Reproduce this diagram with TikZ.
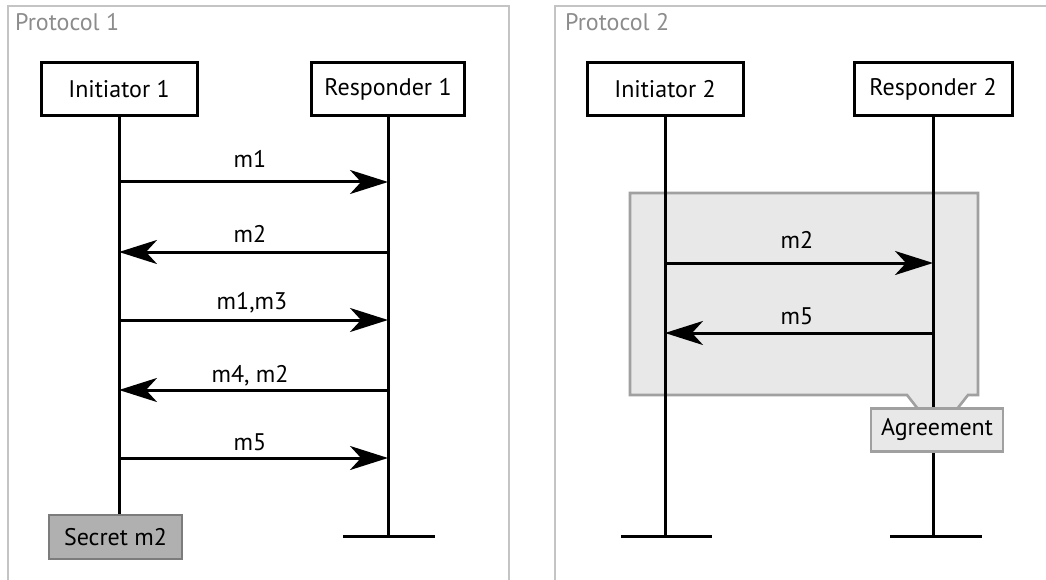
\documentclass[tikz,border=0pt]{standalone}
\usepackage{fontspec}
\setmainfont{PT Sans}
\usetikzlibrary{arrows.meta}
\definecolor{framegray}{HTML}{C4C4C4}
\definecolor{titlegray}{HTML}{8C8C8C}
\definecolor{notefill}{HTML}{E8E8E8}
\definecolor{noteline}{HTML}{A0A0A0}
\definecolor{secretfill}{HTML}{B0B0B0}
\definecolor{secretline}{HTML}{7C7C7C}
\tikzset{
  actor/.style={draw=black, line width=3pt, fill=white, minimum height=53pt, inner sep=0pt, font=\fontsize{24}{27}\selectfont},
  life/.style={line width=3pt},
  endbar/.style={line width=3pt},
  msg/.style={line width=3pt, -{Stealth[length=38pt, width=24pt, inset=11pt]}},
  lbl/.style={anchor=base, inner sep=0pt, font=\fontsize{24}{27}\selectfont},
  frametitle/.style={anchor=base west, inner sep=0pt, text=titlegray, font=\fontsize{24}{27}\selectfont},
  frameline/.style={draw=framegray, line width=1.8pt},
  note/.style={draw=noteline, fill=notefill, line width=2.6pt},
  secret/.style={draw=secretline, fill=secretfill, line width=2.6pt, minimum width=133pt, minimum height=44pt, inner sep=0pt, font=\fontsize{24}{27}\selectfont},
  agree/.style={draw=noteline, fill=notefill, line width=2.6pt, minimum width=132pt, minimum height=43pt, inner sep=0pt, font=\fontsize{24}{27}\selectfont},
}
\begin{document}
\begin{tikzpicture}[x=1pt, y=-1pt]
\useasboundingbox (0,0) rectangle (1046,580);
\clip (0,0) rectangle (1046,580);
% frames
\draw[frameline] (8,600) -- (8,6) -- (509,6) -- (509,600);
\draw[frameline] (555,600) -- (555,6) -- (1070,6);
\node[frametitle] (t1) at (15,31) {Protocol 1};
\node[frametitle] (t2) at (565,31) {Protocol 2};

% ---------- Protocol 1 ----------
\node[actor, minimum width=156pt] (I1) at (119,89.5) {Initiator 1};
\node[actor, minimum width=153pt] (R1) at (388,89.5) {Responder 1};
\node[secret] (S1) at (115.5,537) {Secret m2};
\coordinate (R1end) at (388,536);
\draw[life] (I1.south) -- (S1.north -| I1.south);
\draw[life] (R1.south) -- (R1end);
\draw[endbar] ([xshift=-45pt]R1end) -- ([xshift=47pt]R1end);

\draw[msg] (I1.south |- 0,182) -- (R1.south |- 0,182);
\draw[msg] (R1.south |- 0,252) -- (I1.south |- 0,252);
\draw[msg] (I1.south |- 0,320) -- (R1.south |- 0,320);
\draw[msg] (R1.south |- 0,390) -- (I1.south |- 0,390);
\draw[msg] (I1.south |- 0,458) -- (R1.south |- 0,458);
\node[lbl] (l1) at (250,168) {m1};
\node[lbl] (l2) at (250,242) {m2};
\node[lbl] (l3) at (252,309) {m1,m3};
\node[lbl] (l4) at (250,382) {m4, m2};
\node[lbl] (l5) at (250,450) {m5};

% ---------- Protocol 2 ----------
\node[actor, minimum width=156pt] (I2) at (665,89.5) {Initiator 2};
\node[actor, minimum width=158pt] (R2) at (933,89.5) {Responder 2};
\coordinate (I2end) at (665,536);
\coordinate (R2end) at (933,536);
% note region with callout notch
\draw[note] (630,193) -- (978,193) -- (978,395) -- (968,395) -- (957,409) -- (918,409) -- (907,395) -- (630,395) -- cycle;
\draw[life] (I2.south) -- (I2end);
\draw[life] (R2.south) -- (R2end);
\draw[endbar] ([xshift=-44pt]I2end) -- ([xshift=47pt]I2end);
\draw[endbar] ([xshift=-43pt]R2end) -- ([xshift=49pt]R2end);
\node[agree] (A2) at (937,430) {Agreement};

\draw[msg] (I2.south |- 0,263) -- (R2.south |- 0,263);
\draw[msg] (R2.south |- 0,333) -- (I2.south |- 0,333);
\node[lbl] (k1) at (797,248) {m2};
\node[lbl] (k2) at (797,324) {m5};
\end{tikzpicture}
\end{document}
